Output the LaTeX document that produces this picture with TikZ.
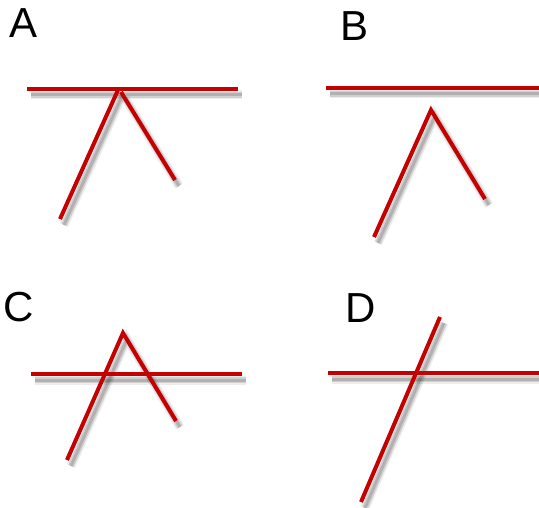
\documentclass[tikz,border=0pt]{standalone}
\usepackage{fontspec}
\setmainfont{Liberation Sans}
\definecolor{lred}{RGB}{196,0,0}
\begin{document}
\begin{tikzpicture}[x=1pt,y=-1pt,
  redline/.style={draw=lred, line width=4pt},
  shadowA/.style={draw=black, opacity=0.07, line width=9pt},
  shadowB/.style={draw=black, opacity=0.12, line width=6pt},
  shadowC/.style={draw=black, opacity=0.15, line width=3pt},
  lbl/.style={anchor=base west, inner sep=0pt, font=\fontsize{42}{42}\selectfont}]
\useasboundingbox (0,0) rectangle (539,508);
% coordinates
\coordinate (a1) at (27,89);  \coordinate (a2) at (238,89);
\coordinate (a3) at (118,90); \coordinate (a4) at (60,219);
\coordinate (a5) at (121,92); \coordinate (a6) at (175,180);
\coordinate (b1) at (326,88); \coordinate (b2) at (539,88);
\coordinate (b3) at (431,110); \coordinate (b4) at (374,237);
\coordinate (b6) at (485,199);
\coordinate (c1) at (31,374); \coordinate (c2) at (242,374);
\coordinate (c3) at (123,333); \coordinate (c4) at (67,460);
\coordinate (c6) at (176,421);
\coordinate (d1) at (328,373); \coordinate (d2) at (539,373);
\coordinate (d3) at (440,317); \coordinate (d4) at (361,502);
% shadows
\begin{scope}[transform canvas={shift={(4pt,-6pt)}}]
\foreach \s in {shadowA,shadowB,shadowC}{
  \draw[\s] (a1) -- (a2); \draw[\s] (a3) -- (a4); \draw[\s] (a5) -- (a6);
  \draw[\s] (b1) -- (b2); \draw[\s] (b4) -- (b3) -- (b6);
  \draw[\s] (c1) -- (c2); \draw[\s] (c4) -- (c3) -- (c6);
  \draw[\s] (d1) -- (d2); \draw[\s] (d3) -- (d4);
}
\end{scope}
% red lines
\draw[redline] (a1) -- (a2);
\draw[redline] (a3) -- (a4);
\draw[redline] (a5) -- (a6);
\draw[redline] (b1) -- (b2);
\draw[redline] (b4) -- (b3) -- (b6);
\draw[redline] (c1) -- (c2);
\draw[redline] (c4) -- (c3) -- (c6);
\draw[redline] (d1) -- (d2);
\draw[redline] (d3) -- (d4);
% labels
\node[lbl] (la) at (9,38) {A};
\node[lbl] (lb) at (340,41) {B};
\node[lbl] (lc) at (3,322) {C};
\node[lbl] (ld) at (345,323) {D};
\end{tikzpicture}
\end{document}
